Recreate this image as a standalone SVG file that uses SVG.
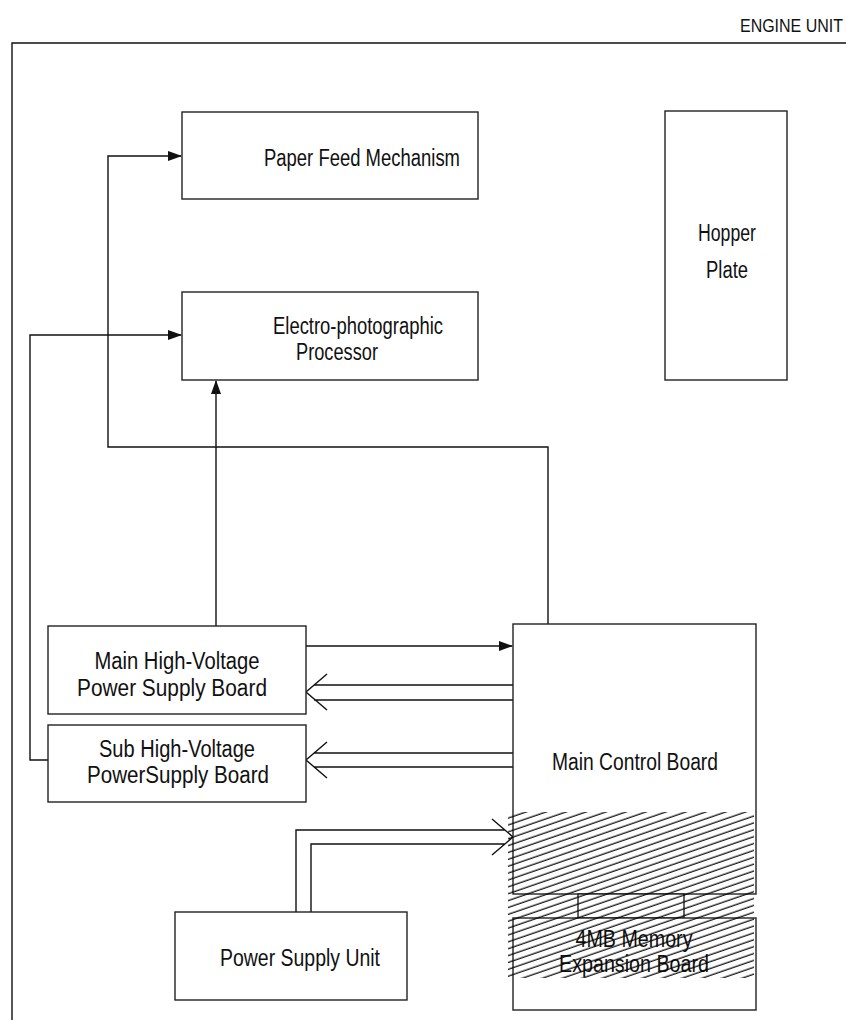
<svg xmlns="http://www.w3.org/2000/svg" width="846" height="1020" viewBox="0 0 846 1020">
<style>
.box{fill:#fff;stroke:#222;stroke-width:1.4}
.ln{fill:none;stroke:#111;stroke-width:1.4}
.t{font-family:"Liberation Sans",Arial,sans-serif;font-size:23px;fill:#111;text-anchor:middle}
</style>
<defs>
<marker id="ah" markerWidth="14" markerHeight="10" refX="13" refY="5" orient="auto" markerUnits="userSpaceOnUse">
<path d="M0,0 L14,5 L0,10 Z" fill="#111"/>
</marker>
<pattern id="hatch" patternUnits="userSpaceOnUse" width="12" height="6.5" patternTransform="rotate(-19)">
<line x1="0" y1="3" x2="12" y2="3" stroke="#000" stroke-width="1.2"/>
</pattern>
</defs>
<rect width="846" height="1020" fill="#fff"/>
<text class="t" transform="translate(843,32) scale(1,1.2)" x="0" y="0" style="font-size:16px;text-anchor:end">ENGINE UNIT</text>
<path class="ln" d="M12,1020 V43 H846"/>
<g id="connectors">
<path class="ln" d="M548,624 V447 H108 V156 H181" marker-end="url(#ah)"/>
<path class="ln" d="M48,760 H30 V335 H181" marker-end="url(#ah)"/>
<path class="ln" d="M216,626 V381" marker-end="url(#ah)"/>
<path class="ln" d="M306,646 H512" marker-end="url(#ah)"/>
<path class="ln" d="M513,685 H314 M513,700 H314 M327,674 L306,692 L327,710"/>
<path class="ln" d="M513,753 H314 M513,767 H314 M327,742 L306,760 L327,778"/>
<path class="ln" d="M296,912 V830 H505 M311,912 V844 H505 M492,819 L513,837 L492,855"/>
</g>
<g id="paper-feed"><rect class="box" x="182" y="112" width="296" height="87"/><text class="t" x="362" y="166" textLength="196" lengthAdjust="spacingAndGlyphs">Paper Feed Mechanism</text></g>
<g id="electro"><rect class="box" x="182" y="292" width="296" height="88"/><text class="t" x="358" y="334" textLength="170" lengthAdjust="spacingAndGlyphs">Electro-photographic</text><text class="t" x="337" y="360" textLength="82" lengthAdjust="spacingAndGlyphs">Processor</text></g>
<g id="hopper"><rect class="box" x="665" y="111" width="122" height="269"/><text class="t" x="727" y="241" textLength="58" lengthAdjust="spacingAndGlyphs">Hopper</text><text class="t" x="727" y="278" textLength="42" lengthAdjust="spacingAndGlyphs">Plate</text></g>
<g id="main-hv"><rect class="box" x="48" y="626" width="258" height="88"/><text class="t" x="177" y="669" textLength="165" lengthAdjust="spacingAndGlyphs">Main High-Voltage</text><text class="t" x="172" y="696" textLength="190" lengthAdjust="spacingAndGlyphs">Power Supply Board</text></g>
<g id="sub-hv"><rect class="box" x="48" y="725" width="258" height="77"/><text class="t" x="177" y="757" textLength="156" lengthAdjust="spacingAndGlyphs">Sub High-Voltage</text><text class="t" x="178" y="783" textLength="182" lengthAdjust="spacingAndGlyphs">PowerSupply Board</text></g>
<g id="main-control"><rect class="box" x="513" y="624" width="243" height="270"/><text class="t" x="635" y="770" textLength="166" lengthAdjust="spacingAndGlyphs">Main Control Board</text></g>
<g id="connector-board"><rect class="box" x="578" y="894" width="106" height="24"/></g>
<g id="memory"><rect class="box" x="513" y="918" width="243" height="92"/><text class="t" x="634" y="947" textLength="117" lengthAdjust="spacingAndGlyphs">4MB Memory</text><text class="t" x="634" y="972" textLength="150" lengthAdjust="spacingAndGlyphs">Expansion Board</text></g>
<g id="power-supply"><rect class="box" x="175" y="912" width="232" height="88"/><text class="t" x="300" y="966" textLength="160" lengthAdjust="spacingAndGlyphs">Power Supply Unit</text></g>
<rect x="508" y="812" width="246" height="166" fill="url(#hatch)"/>
</svg>
